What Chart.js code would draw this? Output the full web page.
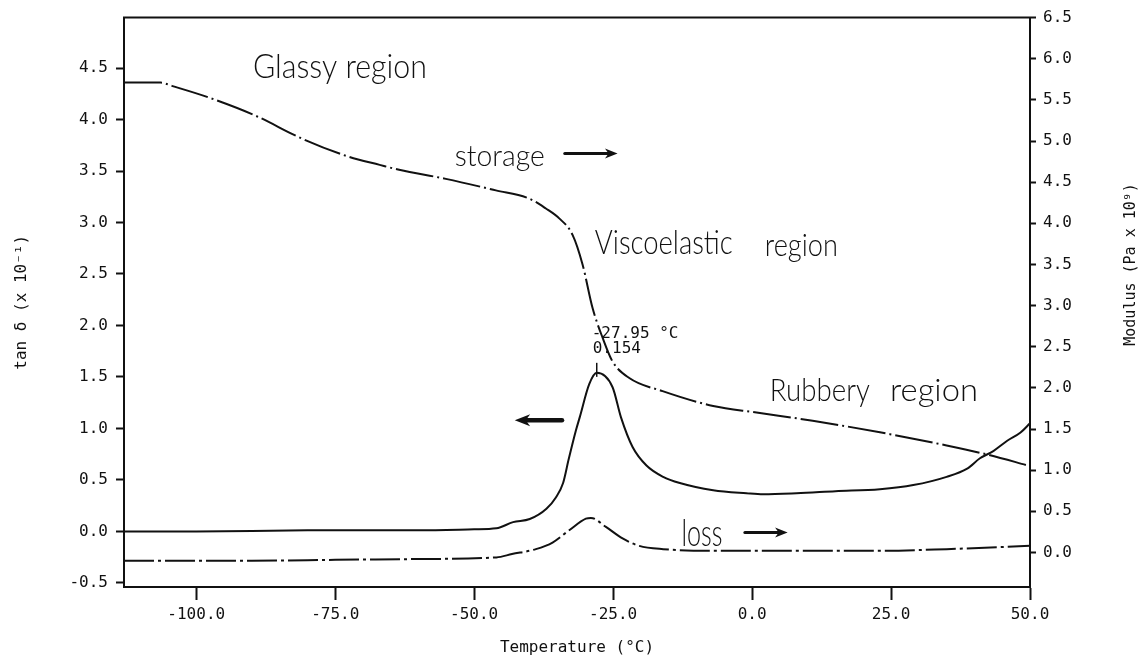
<!DOCTYPE html>
<html>
<head>
<meta charset="utf-8">
<title>tan δ y módulo vs temperatura</title>
<script src="https://cdn.jsdelivr.net/npm/chart.js@4.4.0/dist/chart.umd.min.js"></script>
<style>
  html, body { margin: 0; padding: 0; background: #fff; }
  #contenedor { width: 1141px; height: 662px; position: relative; }
</style>
</head>
<body>
<div id="contenedor"><canvas id="grafico"></canvas></div>
<script>
//Datos: temperatura (°C) y valor de cada curva
const tanTemps = [-113, -100, -80, -60, -50, -46, -43, -40, -37, -35.3, -34, -33, -31.7, -31, -29.3, -27.95, -25.1, -23.6, -21.5, -19, -16, -13, -7, -1, 2, 8, 15, 23, 29, 35, 38.7, 41, 43.4, 45.9, 48.3, 50]
const tanValues = [0.0, 0.0, 0.01, 0.01, 0.02, 0.03, 0.09, 0.12, 0.22, 0.33, 0.47, 0.70, 0.98, 1.11, 1.43, 1.54, 1.40, 1.11, 0.82, 0.64, 0.53, 0.47, 0.40, 0.37, 0.36, 0.37, 0.39, 0.41, 0.45, 0.53, 0.61, 0.71, 0.78, 0.88, 0.96, 1.05]

const storageTemps = [-113, -106.4, -104.4, -97.8, -89.4, -81, -72.6, -67, -63.5, -55.1, -46.1, -40.1, -37.1, -34.7, -32.3, -30.5, -28.7, -26.9, -25.1, -22.1, -16.1, -7, 0.8, 10.9, 23, 35, 42.3, 50]
const storageValues = [5.71, 5.71, 5.67, 5.53, 5.31, 5.03, 4.81, 4.71, 4.65, 4.54, 4.40, 4.30, 4.18, 4.06, 3.86, 3.50, 2.97, 2.61, 2.32, 2.12, 1.96, 1.78, 1.70, 1.60, 1.46, 1.30, 1.19, 1.05]

const lossTemps = [-113, -90, -75, -60, -46, -43.2, -38.9, -35.9, -32.9, -29.9, -29, -26.3, -23.3, -20.3, -16, -7, 8, 23, 35, 50]
const lossValues = [-0.10, -0.10, -0.09, -0.08, -0.06, -0.02, 0.04, 0.12, 0.27, 0.41, 0.42, 0.31, 0.17, 0.08, 0.04, 0.02, 0.02, 0.02, 0.04, 0.08]

//pico de tan δ
const peakTemp = -27.95
const peakTan = 1.54

//marcas de los ejes
const tempTicks = [-100, -75, -50, -25, 0, 25, 50]
const tanTicks = [-0.5, 0, 0.5, 1, 1.5, 2, 2.5, 3, 3.5, 4, 4.5]
const modTicks = [0, 0.5, 1, 1.5, 2, 2.5, 3, 3.5, 4, 4.5, 5, 5.5, 6, 6.5]

const tinta = "#111"
const mono = "'DejaVu Sans Mono', monospace"
const fuente = { family: mono, size: 16 }

const puntos = (xs, ys) => xs.map((t, i) => ({ x: t, y: ys[i] }))

//texto "a mano": se estira o encoge hasta el ancho pedido
function aMano(ctx, texto, x, y, size, ancho) {
    ctx.save()
    ctx.font = "300 " + size + "px Lato"
    let w = ctx.measureText(texto).width
    ctx.translate(x, y)
    ctx.scale(ancho / w, 1)
    ctx.textAlign = "left"
    ctx.textBaseline = "alphabetic"
    ctx.fillText(texto, 0, 0)
    ctx.restore()
}

function flecha(ctx, x1, x2, y, grosor, punta) {
    let dir = Math.sign(x2 - x1)
    ctx.save()
    ctx.lineWidth = grosor
    ctx.lineCap = "round"
    ctx.beginPath()
    ctx.moveTo(x1, y)
    ctx.lineTo(x2 - dir * punta, y)
    ctx.stroke()
    ctx.beginPath()
    ctx.moveTo(x2, y)
    ctx.lineTo(x2 - dir * punta * 1.4, y - punta * 0.55)
    ctx.lineTo(x2 - dir * punta, y)
    ctx.lineTo(x2 - dir * punta * 1.4, y + punta * 0.55)
    ctx.closePath()
    ctx.fill()
    ctx.restore()
}

//marco superior, título derecho y anotaciones
const anotaciones = {
    id: "anotaciones",
    afterDraw(chart) {
        const { ctx, chartArea, scales } = chart
        const px = v => scales.x.getPixelForValue(v)
        const py = v => scales.y.getPixelForValue(v)
        ctx.save()
        ctx.strokeStyle = tinta
        ctx.fillStyle = tinta

        ctx.lineWidth = 2
        ctx.beginPath()
        ctx.moveTo(chartArea.left - 1, chartArea.top)
        ctx.lineTo(chartArea.right + 1, chartArea.top)
        ctx.stroke()

        ctx.save()
        ctx.font = "15px " + mono
        ctx.textAlign = "center"
        ctx.textBaseline = "middle"
        ctx.translate(chart.width - 10, scales.y2.getPixelForValue(3.5))
        ctx.rotate(-Math.PI / 2)
        ctx.fillText("Modulus (Pa x 10⁹)", 0, 0)
        ctx.restore()

        //marca y valores del pico
        let xp = px(peakTemp), yp = py(peakTan)
        ctx.lineWidth = 1.5
        ctx.beginPath()
        ctx.moveTo(xp, yp - 10)
        ctx.lineTo(xp, yp + 4)
        ctx.stroke()
        ctx.font = "16px " + mono
        ctx.textAlign = "left"
        ctx.textBaseline = "alphabetic"
        ctx.fillText(peakTemp.toFixed(2) + " °C", xp - 5, yp - 35)
        ctx.fillText((peakTan / 10).toFixed(3), xp - 4, yp - 20)

        aMano(ctx, "Glassy region", px(-89.8), py(4.40), 34, 174)
        aMano(ctx, "storage", px(-53.5), py(3.55), 30, 90)
        flecha(ctx, px(-33.7), px(-24.2), py(3.67), 3, 9)
        aMano(ctx, "Viscoelastic", px(-28.3), py(2.69), 34, 138)
        aMano(ctx, "region", px(2.3), py(2.67), 32, 73)
        aMano(ctx, "Rubbery", px(3.2), py(1.27), 32, 100)
        aMano(ctx, "region", px(24.8), py(1.27), 32, 88)
        aMano(ctx, "loss", px(-12.7), py(-0.14), 38, 41)
        flecha(ctx, px(-1.3), px(6.4), py(-0.01), 3, 9)
        flecha(ctx, px(-34.2), px(-42.7), py(1.08), 4.5, 11)
        ctx.restore()
    }
}

const ctxGrafico = document.getElementById("grafico").getContext("2d")
const grafico = new Chart(ctxGrafico, {
    type: "line",
    data: {
        datasets: [
            {
                label: "tan δ",
                data: puntos(tanTemps, tanValues),
                yAxisID: "y",
                borderColor: tinta,
                borderWidth: 2,
                pointRadius: 0,
                cubicInterpolationMode: "monotone",
                fill: false
            },
            {
                label: "storage",
                data: puntos(storageTemps, storageValues),
                yAxisID: "y2",
                borderColor: tinta,
                borderWidth: 2,
                borderDash: [38, 4, 2, 4],
                pointRadius: 0,
                cubicInterpolationMode: "monotone",
                fill: false
            },
            {
                label: "loss",
                data: puntos(lossTemps, lossValues),
                yAxisID: "y2",
                borderColor: tinta,
                borderWidth: 2,
                borderDash: [30, 4, 3, 4],
                pointRadius: 0,
                cubicInterpolationMode: "monotone",
                fill: false
            }
        ]
    },
    options: {
        responsive: true,
        maintainAspectRatio: false,
        animation: false,
        layout: { padding: { top: 16, left: 0, right: 0, bottom: 0 } },
        plugins: {
            legend: { display: false },
            tooltip: { enabled: false }
        },
        scales: {
            x: {
                type: "linear",
                min: -113,
                max: 50,
                afterBuildTicks: s => { s.ticks = tempTicks.map(v => ({ value: v })) },
                afterFit: s => { s.height = 75 },
                border: { display: true, color: tinta, width: 2 },
                grid: { drawOnChartArea: false, drawTicks: true, tickLength: 13, tickWidth: 2, tickColor: tinta },
                ticks: { color: tinta, font: fuente, padding: 5, maxRotation: 0, autoSkip: false, callback: v => v.toFixed(1) },
                title: { display: true, text: "Temperature (°C)", color: tinta, font: fuente, padding: { top: 0, bottom: 5 } }
            },
            y: {
                type: "linear",
                position: "left",
                min: -0.54,
                max: 4.99,
                afterBuildTicks: s => { s.ticks = tanTicks.map(v => ({ value: v })) },
                afterFit: s => { s.width = 124 },
                border: { display: true, color: tinta, width: 2 },
                grid: { drawOnChartArea: false, drawTicks: true, tickLength: 8, tickWidth: 2, tickColor: tinta },
                ticks: { color: tinta, font: fuente, padding: 8, autoSkip: false, callback: v => v.toFixed(1) },
                title: { display: true, text: "tan δ (x 10⁻¹)", color: tinta, font: fuente, padding: { top: 12, bottom: 0 } }
            },
            y2: {
                type: "linear",
                position: "right",
                min: -0.42,
                max: 6.5,
                afterBuildTicks: s => { s.ticks = modTicks.map(v => ({ value: v })) },
                afterFit: s => { s.width = 111 },
                border: { display: true, color: tinta, width: 2 },
                grid: { drawOnChartArea: false, drawTicks: true, tickLength: 6, tickWidth: 2, tickColor: tinta },
                ticks: { color: tinta, font: fuente, padding: 7, autoSkip: false, callback: v => v.toFixed(1) }
            }
        }
    },
    plugins: [anotaciones]
})
</script>
</body>
</html>
